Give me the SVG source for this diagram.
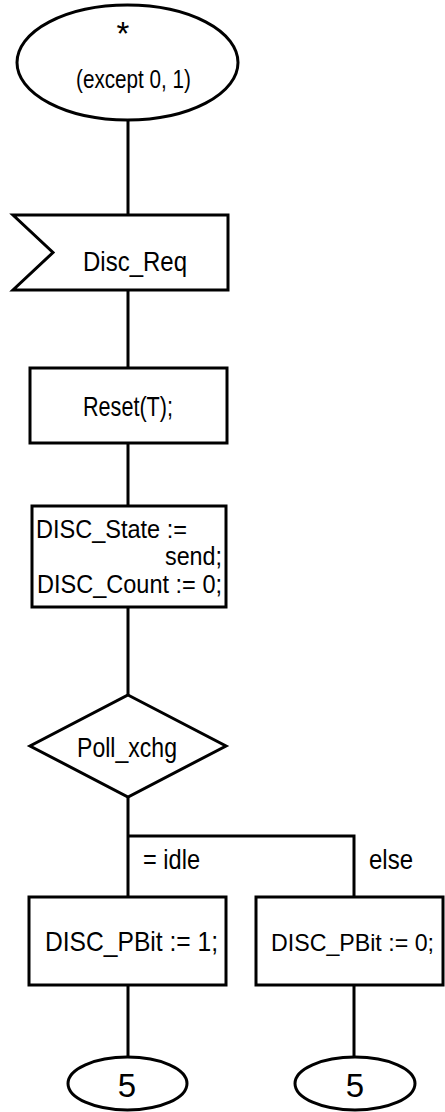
<svg xmlns="http://www.w3.org/2000/svg" width="445" height="1112" viewBox="0 0 445 1112">
<style>
.s{fill:#fff;stroke:#000;stroke-width:3}
.c{fill:none;stroke:#000;stroke-width:3}
text{font-family:"Liberation Sans",Arial,sans-serif;font-size:28px;fill:#000}
.m{font-size:26px}
.b{font-size:33px}
</style>
<rect width="445" height="1112" fill="#fff"/>
<g id="connectors">
<path class="c" d="M128 120V215M128 290V368M128 443V506M128 607V695M128 797V836H354V897M128 836V897M128 985V1057M354 985V1057"/>
</g>
<g id="start">
<ellipse class="s" cx="127.5" cy="62.5" rx="110.5" ry="57.5"/>
<text class="b" x="123" y="45" text-anchor="middle">*</text>
<text class="m" x="76" y="88" textLength="115" lengthAdjust="spacingAndGlyphs">(except 0, 1)</text>
</g>
<g id="input">
<polygon class="s" points="13,215 228,215 228,290 13,290 53,252.5"/>
<text x="83" y="271" textLength="104" lengthAdjust="spacingAndGlyphs">Disc_Req</text>
</g>
<g id="reset">
<rect class="s" x="30" y="368" width="197" height="75"/>
<text x="83" y="416" textLength="90" lengthAdjust="spacingAndGlyphs">Reset(T);</text>
</g>
<g id="assign">
<rect class="s" x="32" y="506" width="194" height="101"/>
<text class="m" x="36" y="538" textLength="151" lengthAdjust="spacingAndGlyphs">DISC_State :=</text>
<text class="m" x="165" y="565" textLength="57" lengthAdjust="spacingAndGlyphs">send;</text>
<text class="m" x="37" y="593" textLength="185" lengthAdjust="spacingAndGlyphs">DISC_Count := 0;</text>
</g>
<g id="decision">
<polygon class="s" points="128,695 226,746 128,797 30,746"/>
<text x="77" y="757" textLength="100" lengthAdjust="spacingAndGlyphs">Poll_xchg</text>
</g>
<g id="labels">
<text x="143" y="869" textLength="57" lengthAdjust="spacingAndGlyphs">= idle</text>
<text x="369" y="869" textLength="44" lengthAdjust="spacingAndGlyphs">else</text>
</g>
<g id="pbit1">
<rect class="s" x="29" y="897" width="197" height="88"/>
<text x="45" y="951" textLength="173" lengthAdjust="spacingAndGlyphs">DISC_PBit := 1;</text>
</g>
<g id="pbit0">
<rect class="s" x="256" y="897" width="187" height="88"/>
<text x="271" y="951" style="font-size:24px" textLength="163" lengthAdjust="spacingAndGlyphs">DISC_PBit := 0;</text>
</g>
<g id="end1">
<ellipse class="s" cx="127.5" cy="1083.5" rx="59.5" ry="26.5"/>
<text class="b" x="127" y="1097" text-anchor="middle">5</text>
</g>
<g id="end2">
<ellipse class="s" cx="355" cy="1083.5" rx="60" ry="26.5"/>
<text class="b" x="355" y="1097" text-anchor="middle">5</text>
</g>
</svg>
